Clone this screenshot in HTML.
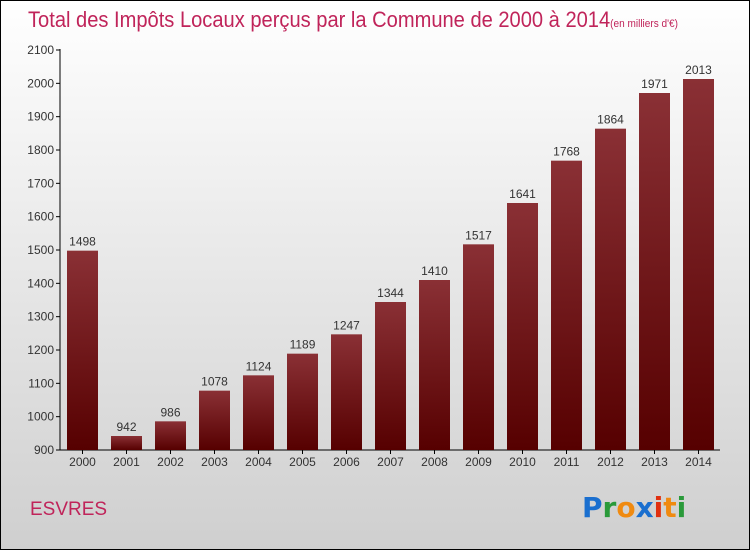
<!DOCTYPE html>
<html><head><meta charset="utf-8"><style>
html,body{margin:0;padding:0}
body{width:750px;height:550px;overflow:hidden;font-family:"Liberation Sans",sans-serif}
</style></head><body>
<svg width="750" height="550" xmlns="http://www.w3.org/2000/svg">
<defs>
<linearGradient id="bg" x1="0" y1="0" x2="0" y2="1"><stop offset="0" stop-color="#ffffff"/><stop offset="1" stop-color="#cfcfcf"/></linearGradient>
<linearGradient id="bar" x1="0" y1="0" x2="0" y2="1"><stop offset="0" stop-color="#8a3035"/><stop offset="1" stop-color="#560000"/></linearGradient>
</defs>
<rect x="0.5" y="0.5" width="749" height="549" fill="url(#bg)" stroke="#000"/>
<text x="28" y="27" font-size="22" fill="#c0245a" textLength="650" lengthAdjust="spacingAndGlyphs">Total des Impôts Locaux perçus par la Commune de 2000 à 2014<tspan font-size="11">(en milliers d'€)</tspan></text>
<g id="axes"></g>
<g id="bars"></g>
<text x="30" y="515" font-size="19" fill="#c0245a">ESVRES</text>
<g font-size="28" font-weight="bold" font-family="'DejaVu Sans',sans-serif">
<text x="582" y="517"><tspan fill="#1a6fcf">P</tspan><tspan fill="#2a9a3a">r</tspan><tspan fill="#f08a10">o</tspan><tspan fill="#1a6fcf">x</tspan><tspan fill="#e03010">i</tspan><tspan fill="#f08a10">t</tspan><tspan fill="#2a9a3a">i</tspan></text>
</g>
</svg>
<script>
const years=["2000","2001","2002","2003","2004","2005","2006","2007","2008","2009","2010","2011","2012","2013","2014"];
const values=[1498,942,986,1078,1124,1189,1247,1344,1410,1517,1641,1768,1864,1971,2013];
const ticks=[900,1000,1100,1200,1300,1400,1500,1600,1700,1800,1900,2000,2100];
const NS="http://www.w3.org/2000/svg";
const y=v=>450-(v-900)/3;
const x=i=>82.5+i*44;
function mk(t,a,p){const e=document.createElementNS(NS,t);for(const k in a)e.setAttribute(k,a[k]);p.appendChild(e);return e;}
const ax=document.getElementById('axes'),bg=document.getElementById('bars');
const yl=mk('line',{x1:60,y1:49,x2:60,y2:450,stroke:'#000'},ax);


const xl=mk('line',{x1:60,y1:450,x2:720,y2:450,stroke:'#000'},ax);


ticks.forEach(t=>{
 mk('line',{x1:56,x2:60,y1:y(t),y2:y(t),stroke:'#000'},ax);
 const e=mk('text',{x:54,y:y(t)+4,'font-size':12,'text-anchor':'end',fill:'#333'},ax);
 e.textContent=t;
 
 
});
years.forEach((yr,i)=>{
 const r=mk('rect',{x:x(i)-15.5,y:y(values[i]),width:31,height:450-y(values[i]),fill:'url(#bar)'},bg);
 
 
 const v=mk('text',{x:x(i),y:y(values[i])-5,'font-size':12,'text-anchor':'middle',fill:'#333'},bg);
 v.textContent=values[i];
 
 
 mk('line',{x1:x(i),x2:x(i),y1:450,y2:454,stroke:'#000'},ax);
 const l=mk('text',{x:x(i),y:466,'font-size':12,'text-anchor':'middle',fill:'#333'},ax);
 l.textContent=yr;
 
 
});
</script>
</body></html>
